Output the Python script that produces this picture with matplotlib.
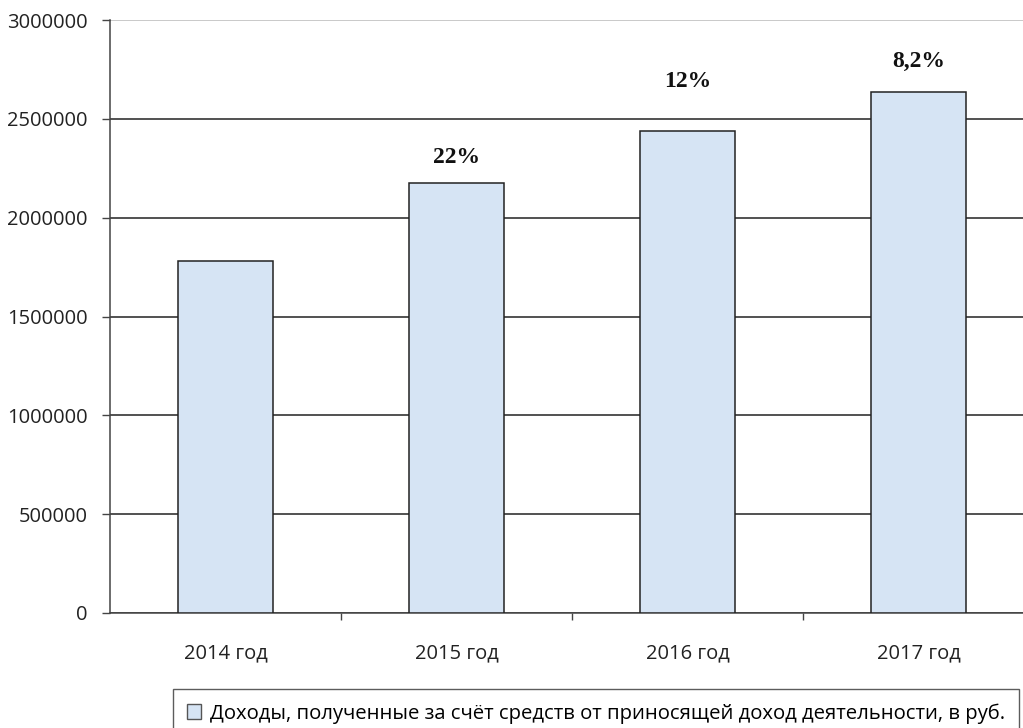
import matplotlib
matplotlib.use("Agg")
import matplotlib.pyplot as plt
from matplotlib.patches import Patch

# data
years = ["2014 год", "2015 год", "2016 год", "2017 год"]
income = [1780000, 2175000, 2438000, 2637000]
growth = ["", "22%", "12%", "8,2%"]
legend_label = "Доходы, полученные за счёт средств от приносящей доход деятельности, в руб."

bar_color = "#d6e4f4"
edge_color = "#222222"
# gap (in points) between bar top and percentage label, as in the scan
label_gap = [0, 11, 28, 14]

W, H = 1023, 728
fig = plt.figure(figsize=(W / 100, H / 100), dpi=100)
fig.patch.set_facecolor("white")

# plot area in pixels: x 110..1034 (right side cut off), y 20..613
ax = fig.add_axes([110 / W, 1 - 613 / H, 924 / W, 593 / H])

x = range(len(years))
ax.bar(x, income, width=0.41, color=bar_color, edgecolor=edge_color,
       linewidth=1.1, zorder=3)

for i, lab in enumerate(growth):
    if lab:
        ax.annotate(lab, (i, income[i]), xytext=(0, label_gap[i]),
                    textcoords="offset points", ha="center", va="bottom",
                    family="Liberation Serif", fontweight="bold", fontsize=17,
                    color="#111111", zorder=4)

ax.set_xlim(-0.5, 3.5)
ax.set_ylim(0, 3000000)
ax.set_yticks(range(0, 3000001, 500000))
ax.set_yticklabels([str(v) for v in range(0, 3000001, 500000)],
                   family="Open Sans", fontsize=14.5, color="#222222")

ax.set_xticks(list(x))
ax.set_xticklabels(years, family="Open Sans", fontsize=14.5, color="#222222")
ax.set_xticks([0.5, 1.5, 2.5], minor=True)
ax.tick_params(axis="x", which="major", length=0, pad=22)
ax.tick_params(axis="x", which="minor", length=5, width=1, color="#444444",
               direction="out")
ax.tick_params(axis="y", length=6, width=1, color="#444444", pad=10)

ax.grid(axis="y", color="#222222", linewidth=1.1, zorder=0)
ax.yaxis.get_gridlines()[-1].set_color("#bbbbbb")

for s in ["top", "right"]:
    ax.spines[s].set_visible(False)
ax.spines["left"].set_color("#444444")
ax.spines["bottom"].set_color("#444444")
ax.spines["left"].set_linewidth(1.1)
ax.spines["bottom"].set_linewidth(1.1)

handle = Patch(facecolor=bar_color, edgecolor="#555555", linewidth=1)
leg = fig.legend([handle], [legend_label], loc="upper left",
                 bbox_to_anchor=(173 / W, 1 - 689 / H),
                 prop={"family": "Open Sans", "size": 14.6},
                 frameon=True, fancybox=False, edgecolor="#333333",
                 handlelength=0.7, handleheight=0.7, handletextpad=0.4,
                 borderpad=0.7, borderaxespad=0)
leg.get_frame().set_linewidth(1)

fig.savefig("out.png", dpi=100)
